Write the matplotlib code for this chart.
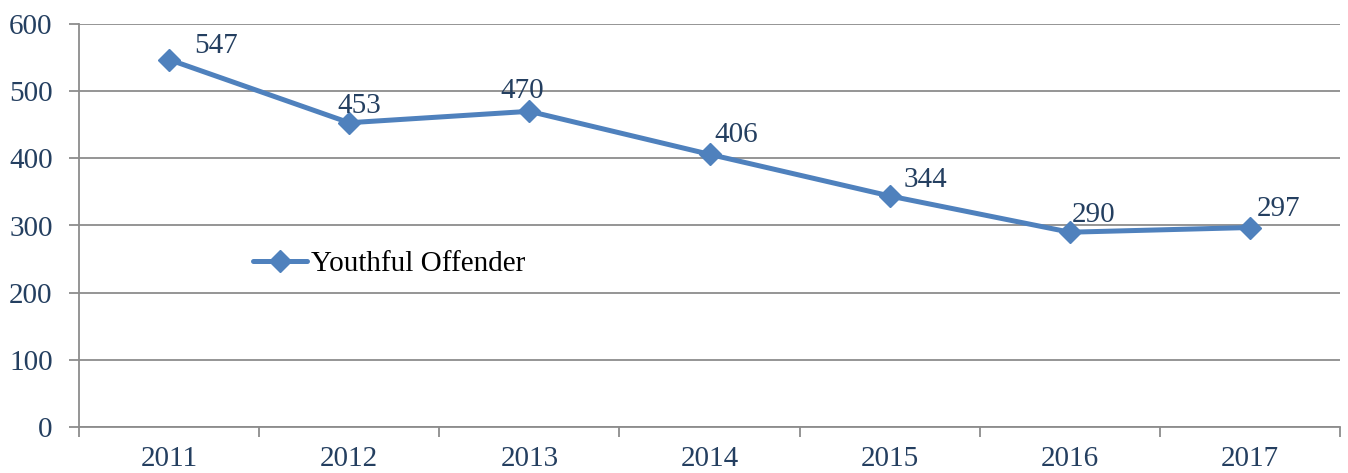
import matplotlib
matplotlib.use("Agg")
import matplotlib.pyplot as plt
import numpy as np

years = ["2011", "2012", "2013", "2014", "2015", "2016", "2017"]
values = [547, 453, 470, 406, 344, 290, 297]
series_name = "Youthful Offender"

# label placement offsets (pixels, left edge / baseline relative to point)
label_dx = [25, -12, -29, 5, 14, 2, 7]
label_dy = [7, 10, 13, 12, 9, 10, 12]

line_color = "#4F81BD"
label_color = "#243F60"
grid_color = "#8C8C8C"

plt.rcParams['font.family'] = ['Liberation Serif', 'DejaVu Serif']
FS = 21

fig = plt.figure(figsize=(13.48, 4.73), dpi=100)
ax = fig.add_axes([79/1348, 46/473, 1261/1348, 403/473])

x = np.arange(len(years))
ax.plot(x, values, color=line_color, lw=3.6, marker='D', markersize=11,
        label=series_name, solid_capstyle='round', zorder=3)

for xi, v, dx, dy in zip(x, values, label_dx, label_dy):
    ax.annotate(str(v), (xi, v), xytext=(dx * 0.72, dy * 0.72), textcoords='offset points',
                fontsize=FS, color=label_color, ha='left', va='baseline', zorder=4)

ax.set_xlim(-0.5, len(years) - 0.5)
ax.set_ylim(0, 600)
ax.set_yticks(np.arange(0, 601, 100))
ax.yaxis.grid(True, color=grid_color, lw=1.3)
ax.set_axisbelow(True)

ax.set_xticks(np.arange(-0.5, len(years), 1.0))
ax.set_xticklabels([])
ax.set_xticks(x, minor=True)
ax.set_xticklabels(years, minor=True)
ax.tick_params(axis='x', which='minor', length=0, pad=14, labelsize=FS, labelcolor=label_color)
ax.tick_params(axis='x', which='major', length=7, width=1.3, color=grid_color)
ax.tick_params(axis='y', length=7, width=1.3, color=grid_color, pad=12,
               labelsize=FS, labelcolor=label_color)

for s in ['top', 'right']:
    ax.spines[s].set_visible(False)
for s in ['left', 'bottom']:
    ax.spines[s].set_color(grid_color)
    ax.spines[s].set_linewidth(1.3)

leg = ax.legend(loc='center left', bbox_to_anchor=(0.138, 0.405), frameon=False,
                fontsize=FS, handlelength=1.85, handletextpad=0.15,
                borderaxespad=0, borderpad=0)

fig.savefig("out.png", dpi=100)
